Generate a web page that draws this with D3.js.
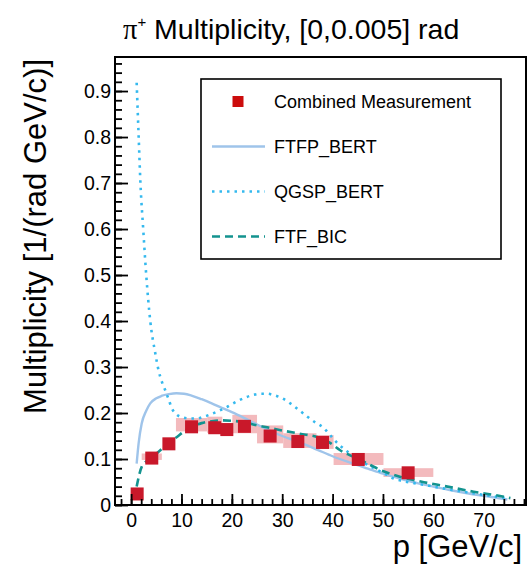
<!DOCTYPE html>
<html>
<head>
<meta charset="utf-8">
<script src="https://cdn.jsdelivr.net/npm/d3@7"></script>
<style>
  body { margin: 0; background: #fff; }
  svg { display: block; font-family: "Liberation Sans", Arial, Helvetica, sans-serif; }
  .tick line { stroke: #000; stroke-width: 1.8; }
</style>
</head>
<body>
<div id="chart"></div>
<script>
// combined measurement (pi+ multiplicity, 0-5 mrad)
var measP    = [1.2, 4.1, 7.5, 12.0, 16.6, 19.0, 22.5, 27.6, 33.1, 38.0, 45.1, 55.0];
var measMult = [0.024, 0.102, 0.133, 0.170, 0.168, 0.164, 0.171, 0.150, 0.138, 0.136, 0.099, 0.070];
// systematic boxes
var boxPLo = [0.8, 2.1, 6.5, 8.9, 15.1, 18.1, 20.1, 25.0, 30.2, 36.8, 40.2, 50.1];
var boxPHi = [1.6, 6.1, 8.5, 15.1, 18.1, 20.1, 25.0, 30.2, 36.8, 40.2, 50.1, 60.0];
var boxLo  = [0.019, 0.098, 0.127, 0.160, 0.157, 0.152, 0.156, 0.134, 0.124, 0.122, 0.087, 0.061];
var boxHi  = [0.029, 0.112, 0.139, 0.189, 0.192, 0.178, 0.196, 0.173, 0.156, 0.152, 0.113, 0.080];

// model predictions
var ftfpP = [1.1, 1.5, 2.1, 3, 3.8, 5, 6, 7.5, 9, 10.5, 12, 14, 16, 18, 20, 22.5, 25, 27.5, 30, 33.5, 37, 40, 43.5, 47, 50, 53.5, 57, 60, 63.5, 67, 70, 74.7];
var ftfpV = [0.090, 0.135, 0.177, 0.205, 0.221, 0.232, 0.237, 0.241, 0.243, 0.242, 0.238, 0.230, 0.221, 0.211, 0.202, 0.189, 0.175, 0.162, 0.150, 0.136, 0.120, 0.106, 0.092, 0.079, 0.068, 0.057, 0.047, 0.040, 0.032, 0.025, 0.020, 0.012];

var qgspP = [1.1, 1.5, 1.85, 2.4, 3.0, 3.8, 4.8, 5.4, 6.2, 6.8, 7.5, 8.1, 9.0, 10, 11.7, 13, 14.4, 16, 17.5, 19, 20.3, 21.5, 23, 24.5, 25.6, 27, 28.3, 30, 31.6, 33.5, 35, 36.5, 38.2, 39.5, 41, 42.5, 44.2, 46, 48.2, 50, 52, 54.5, 57, 60, 63.5, 67, 70, 74.7];
var qgspV = [0.918, 0.80, 0.70, 0.60, 0.50, 0.40, 0.33, 0.295, 0.265, 0.249, 0.228, 0.210, 0.197, 0.191, 0.188, 0.188, 0.192, 0.198, 0.205, 0.213, 0.221, 0.228, 0.235, 0.240, 0.242, 0.242, 0.239, 0.232, 0.221, 0.205, 0.192, 0.180, 0.168, 0.152, 0.134, 0.120, 0.105, 0.093, 0.080, 0.070, 0.058, 0.051, 0.046, 0.040, 0.033, 0.027, 0.022, 0.015];

var bicP = [1.1, 2.1, 3.4, 4.5, 5.8, 7.4, 9.1, 10.5, 12, 14, 16, 18, 20, 22.5, 25, 27.5, 30, 33.5, 37.5, 39.5, 41.5, 43.5, 45.5, 47.5, 49.5, 51.5, 53.5, 57.5, 62.8, 68, 72, 75.3];
var bicV = [0.040, 0.083, 0.098, 0.107, 0.119, 0.135, 0.148, 0.160, 0.170, 0.178, 0.182, 0.184, 0.183, 0.180, 0.173, 0.168, 0.162, 0.155, 0.146, 0.135, 0.119, 0.108, 0.098, 0.087, 0.076, 0.068, 0.061, 0.051, 0.040, 0.029, 0.022, 0.015];

var xMajor = [0, 10, 20, 30, 40, 50, 60, 70];
var yMajor = [0, 0.1, 0.2, 0.3, 0.4, 0.5, 0.6, 0.7, 0.8, 0.9];

var legendNames = ['Combined Measurement', 'FTFP_BERT', 'QGSP_BERT', 'FTF_BIC'];

var width = 528, height = 566;
var frame = { left: 115, right: 526, top: 57, bottom: 505 };

var svg = d3.select('#chart')
  .append('svg')
  .attr('width', width)
  .attr('height', height);

var x = d3.scaleLinear().domain([-3.2, 78.4]).range([frame.left, frame.right]);
var y = d3.scaleLinear().domain([0, 0.974]).range([frame.bottom, frame.top]);

// colours
var red = '#c9182a';
var pink = '#f3babd';
var ftfpCol = '#9fc4ea';
var qgspCol = '#35b9ee';
var bicCol = '#13938f';

// systematic boxes
svg.append('g')
  .selectAll('rect')
  .data(measP)
  .enter()
  .append('rect')
  .attr('x', function(d, i) { return x(boxPLo[i]); })
  .attr('width', function(d, i) { return x(boxPHi[i]) - x(boxPLo[i]); })
  .attr('y', function(d, i) { return y(boxHi[i]); })
  .attr('height', function(d, i) { return y(boxLo[i]) - y(boxHi[i]); })
  .attr('fill', pink);

var line = d3.line()
  .x(function(d) { return x(d[0]); })
  .y(function(d) { return y(d[1]); })
  .curve(d3.curveMonotoneX);

function zipped(ps, vs) {
  return ps.map(function(p, i) { return [p, vs[i]]; });
}

svg.append('path')
  .attr('d', line(zipped(ftfpP, ftfpV)))
  .attr('fill', 'none')
  .attr('stroke', ftfpCol)
  .attr('stroke-width', 2.4);

svg.append('path')
  .attr('d', line(zipped(qgspP, qgspV)))
  .attr('fill', 'none')
  .attr('stroke', qgspCol)
  .attr('stroke-width', 2.6)
  .attr('stroke-dasharray', '2.5,5');

svg.append('path')
  .attr('d', line(zipped(bicP, bicV)))
  .attr('fill', 'none')
  .attr('stroke', bicCol)
  .attr('stroke-width', 2.6)
  .attr('stroke-dasharray', '8,5');

// markers
var ms = 13;
svg.append('g')
  .selectAll('rect')
  .data(measP)
  .enter()
  .append('rect')
  .attr('x', function(d) { return x(d) - ms / 2; })
  .attr('y', function(d, i) { return y(measMult[i]) - ms / 2; })
  .attr('width', ms)
  .attr('height', ms)
  .attr('fill', red);

// axes, ticks inside the frame like ROOT
var xAxisG = svg.append('g').attr('transform', 'translate(0,' + frame.bottom + ')');
xAxisG.append('g')
  .call(d3.axisBottom(x).tickValues(d3.range(-2, 79, 2)).tickSize(-6).tickFormat(''));
xAxisG.append('g')
  .call(d3.axisBottom(x).tickValues(xMajor).tickSize(-11).tickPadding(8));
xAxisG.selectAll('.domain').remove();
xAxisG.selectAll('text')
  .attr('font-size', '19.5px')
  .attr('font-family', '"Liberation Sans", Arial, sans-serif')
  .attr('fill', '#000');

var yAxisG = svg.append('g').attr('transform', 'translate(' + frame.left + ',0)');
yAxisG.append('g')
  .call(d3.axisLeft(y).tickValues(d3.range(0, 49).map(function(i) { return i * 0.02; })).tickSize(-7).tickFormat(''));
yAxisG.append('g')
  .call(d3.axisLeft(y).tickValues(yMajor).tickSize(-13).tickPadding(4)
    .tickFormat(function(d) { return d === 0 ? '0' : d.toFixed(1); }));
yAxisG.selectAll('.domain').remove();
yAxisG.selectAll('text')
  .attr('font-size', '19.5px')
  .attr('font-family', '"Liberation Sans", Arial, sans-serif')
  .attr('fill', '#000');

// frame
svg.append('rect')
  .attr('x', frame.left)
  .attr('y', frame.top)
  .attr('width', frame.right - frame.left)
  .attr('height', frame.bottom - frame.top)
  .attr('fill', 'none')
  .attr('stroke', '#000')
  .attr('stroke-width', 2);

// title
var title = svg.append('text')
  .attr('x', 123)
  .attr('y', 39)
  .attr('font-size', '28.5px')
  .attr('fill', '#000');
title.append('tspan')
  .attr('font-family', '"Liberation Serif", "DejaVu Serif", serif')
  .text('π');
title.append('tspan')
  .attr('font-size', '15px')
  .attr('dy', -12)
  .text('+');
title.append('tspan')
  .attr('dy', 12)
  .text(' Multiplicity, [0,0.005] rad');

// axis titles
svg.append('text')
  .attr('x', 522)
  .attr('y', 557)
  .attr('text-anchor', 'end')
  .attr('font-size', '31px')
  .text('p [GeV/c]');

svg.append('text')
  .attr('transform', 'translate(46,59) rotate(-90)')
  .attr('text-anchor', 'end')
  .attr('font-size', '31px')
  .text('Multiplicity [1/(rad GeV/c)]');

// legend
var lg = { x0: 201, y0: 79, x1: 501, y1: 259, row: 45 };
svg.append('rect')
  .attr('x', lg.x0)
  .attr('y', lg.y0)
  .attr('width', lg.x1 - lg.x0)
  .attr('height', lg.y1 - lg.y0)
  .attr('fill', '#fff')
  .attr('stroke', '#000')
  .attr('stroke-width', 1.6);

var entry = svg.append('g')
  .selectAll('g')
  .data(legendNames)
  .enter()
  .append('g')
  .attr('transform', function(d, i) {
    return 'translate(0,' + (lg.y0 + lg.row / 2 + i * lg.row) + ')';
  });

entry.append('text')
  .attr('x', 274)
  .attr('dy', '0.36em')
  .attr('font-size', '18px')
  .text(function(d) { return d; });

entry.filter(function(d, i) { return i === 0; })
  .append('rect')
  .attr('x', 238 - 5.5)
  .attr('y', -5.5)
  .attr('width', 11)
  .attr('height', 11)
  .attr('fill', '#cc0c0c');

var legendStyles = [null,
  { col: ftfpCol, dash: null, w: 2.4 },
  { col: qgspCol, dash: '2.5,5', w: 2.6 },
  { col: bicCol, dash: '8,5', w: 2.6 }];

entry.filter(function(d, i) { return i > 0; })
  .append('line')
  .attr('x1', 212)
  .attr('x2', 265)
  .attr('stroke', function(d) { return legendStyles[legendNames.indexOf(d)].col; })
  .attr('stroke-width', function(d) { return legendStyles[legendNames.indexOf(d)].w; })
  .attr('stroke-dasharray', function(d) { return legendStyles[legendNames.indexOf(d)].dash; });
</script>
</body>
</html>
